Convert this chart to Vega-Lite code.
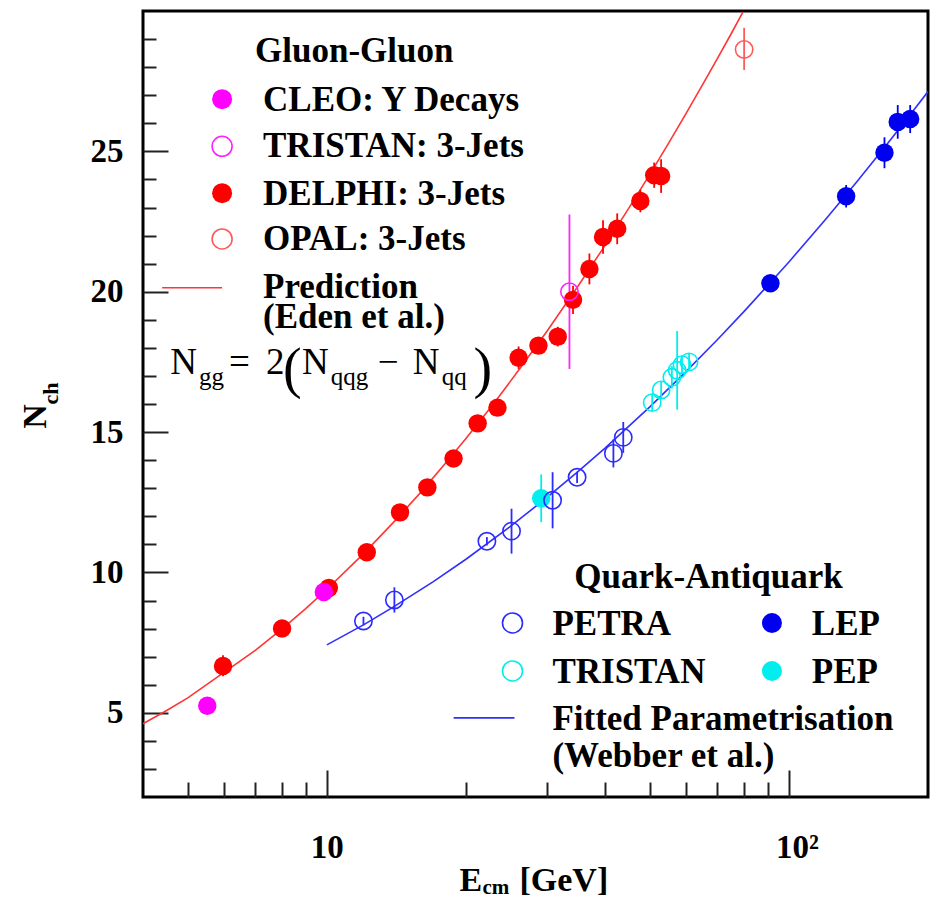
{
  "$schema": "https://vega.github.io/schema/vega-lite/v6.json",
  "width": 785,
  "height": 786,
  "autosize": {"type": "none"},
  "padding": {"left": 143, "top": 11, "right": 6, "bottom": 103},
  "background": "white",
  "config": {
    "view": {"stroke": "black", "strokeWidth": 3},
    "font": "Liberation Serif",
    "axis": {"grid": false, "domain": false}
  },
  "datasets": {
    "pred": [
      {"E": 4, "N": 4.61}, {"E": 4.5, "N": 5.08}, {"E": 5, "N": 5.53}, {"E": 6, "N": 6.45},
      {"E": 7, "N": 7.22}, {"E": 8, "N": 7.99}, {"E": 9, "N": 8.71}, {"E": 10, "N": 9.4},
      {"E": 12, "N": 10.66}, {"E": 14, "N": 11.82}, {"E": 16, "N": 12.87}, {"E": 18, "N": 13.86},
      {"E": 20, "N": 14.77}, {"E": 23, "N": 16.03}, {"E": 26, "N": 17.2}, {"E": 30, "N": 18.61},
      {"E": 35, "N": 20.21}, {"E": 40, "N": 21.65}, {"E": 45, "N": 22.97}, {"E": 50, "N": 24.18},
      {"E": 55, "N": 25.31}, {"E": 60, "N": 26.37}, {"E": 65, "N": 27.37}, {"E": 70, "N": 28.3},
      {"E": 75, "N": 29.19}, {"E": 79.5, "N": 29.96}
    ],
    "fit": [
      {"E": 10, "N": 7.42}, {"E": 12, "N": 8.13}, {"E": 14, "N": 8.79}, {"E": 17, "N": 9.67},
      {"E": 20, "N": 10.47}, {"E": 25, "N": 11.65}, {"E": 30, "N": 12.68}, {"E": 35, "N": 13.6},
      {"E": 40, "N": 14.43}, {"E": 50, "N": 15.9}, {"E": 60, "N": 17.17}, {"E": 70, "N": 18.29},
      {"E": 80, "N": 19.3}, {"E": 91.2, "N": 20.33}, {"E": 100, "N": 21.06}, {"E": 120, "N": 22.57},
      {"E": 140, "N": 23.9}, {"E": 160, "N": 25.08}, {"E": 180, "N": 26.15}, {"E": 200, "N": 27.13}
    ],
    "pts": [
      {"exp": "TRISTAN_gg", "E": 33.5, "N": 20.0, "lo": 17.25, "hi": 22.75},
      {"exp": "DELPHI", "E": 5.96, "N": 6.67, "lo": 6.3, "hi": 7.05},
      {"exp": "DELPHI", "E": 8.0, "N": 8.0, "lo": 7.8, "hi": 8.2},
      {"exp": "DELPHI", "E": 10.1, "N": 9.45, "lo": 9.15, "hi": 9.75},
      {"exp": "DELPHI", "E": 12.2, "N": 10.72, "lo": 10.47, "hi": 10.97},
      {"exp": "DELPHI", "E": 14.4, "N": 12.14, "lo": 11.89, "hi": 12.39},
      {"exp": "DELPHI", "E": 16.5, "N": 13.03, "lo": 12.83, "hi": 13.23},
      {"exp": "DELPHI", "E": 18.8, "N": 14.06, "lo": 13.81, "hi": 14.31},
      {"exp": "DELPHI", "E": 21.2, "N": 15.31, "lo": 15.01, "hi": 15.61},
      {"exp": "DELPHI", "E": 23.4, "N": 15.87, "lo": 15.57, "hi": 16.17},
      {"exp": "DELPHI", "E": 26.0, "N": 17.65, "lo": 17.25, "hi": 18.05},
      {"exp": "DELPHI", "E": 28.7, "N": 18.08, "lo": 17.78, "hi": 18.38},
      {"exp": "DELPHI", "E": 31.6, "N": 18.4, "lo": 18.05, "hi": 18.75},
      {"exp": "DELPHI", "E": 34.1, "N": 19.71, "lo": 19.21, "hi": 20.21},
      {"exp": "DELPHI", "E": 37.0, "N": 20.81, "lo": 20.26, "hi": 21.36},
      {"exp": "DELPHI", "E": 39.6, "N": 21.95, "lo": 21.35, "hi": 22.55},
      {"exp": "DELPHI", "E": 42.5, "N": 22.24, "lo": 21.69, "hi": 22.79},
      {"exp": "DELPHI", "E": 47.7, "N": 23.23, "lo": 22.83, "hi": 23.63},
      {"exp": "DELPHI", "E": 51.1, "N": 24.15, "lo": 23.7, "hi": 24.6},
      {"exp": "DELPHI", "E": 52.9, "N": 24.12, "lo": 23.52, "hi": 24.72},
      {"exp": "CLEO", "E": 5.51, "N": 5.25},
      {"exp": "CLEO", "E": 9.85, "N": 9.3},
      {"exp": "OPAL", "E": 80.0, "N": 28.63, "lo": 27.9, "hi": 29.4},
      {"exp": "PETRA", "E": 12.0, "N": 8.27, "lo": 8.12, "hi": 8.42},
      {"exp": "PETRA", "E": 14.0, "N": 9.02, "lo": 8.57, "hi": 9.47},
      {"exp": "PETRA", "E": 22.2, "N": 11.11, "lo": 10.96, "hi": 11.26},
      {"exp": "PETRA", "E": 25.1, "N": 11.47, "lo": 10.67, "hi": 12.27},
      {"exp": "PETRA", "E": 30.8, "N": 12.57, "lo": 11.57, "hi": 13.57},
      {"exp": "PETRA", "E": 34.8, "N": 13.39, "lo": 13.19, "hi": 13.59},
      {"exp": "PETRA", "E": 41.7, "N": 14.24, "lo": 13.74, "hi": 14.74},
      {"exp": "PETRA", "E": 43.8, "N": 14.81, "lo": 14.26, "hi": 15.36},
      {"exp": "TRISTAN_qq", "E": 50.6, "N": 16.05, "lo": 15.75, "hi": 16.35},
      {"exp": "TRISTAN_qq", "E": 52.9, "N": 16.5, "lo": 16.2, "hi": 16.8},
      {"exp": "TRISTAN_qq", "E": 55.8, "N": 16.95, "lo": 16.55, "hi": 17.35},
      {"exp": "TRISTAN_qq", "E": 57.3, "N": 17.2, "lo": 15.8, "hi": 18.6},
      {"exp": "TRISTAN_qq", "E": 58.7, "N": 17.4, "lo": 17.1, "hi": 17.7},
      {"exp": "TRISTAN_qq", "E": 60.8, "N": 17.5, "lo": 17.2, "hi": 17.8},
      {"exp": "PEP", "E": 29.1, "N": 12.64, "lo": 11.79, "hi": 13.49},
      {"exp": "LEP", "E": 91.2, "N": 20.3, "lo": 20.1, "hi": 20.5},
      {"exp": "LEP", "E": 133, "N": 23.4, "lo": 23.0, "hi": 23.8},
      {"exp": "LEP", "E": 161, "N": 24.95, "lo": 24.4, "hi": 25.5},
      {"exp": "LEP", "E": 172, "N": 26.05, "lo": 25.45, "hi": 26.65},
      {"exp": "LEP", "E": 183, "N": 26.15, "lo": 25.65, "hi": 26.65}
    ],
    "legmarks": [
      {"exp": "CLEO", "E": 5.933, "N": 26.86},
      {"exp": "TRISTAN_gg", "E": 5.933, "N": 25.18},
      {"exp": "DELPHI", "E": 5.933, "N": 23.51},
      {"exp": "OPAL", "E": 5.933, "N": 21.88},
      {"exp": "PETRA", "E": 25.22, "N": 8.2},
      {"exp": "LEP", "E": 91.9, "N": 8.2},
      {"exp": "TRISTAN_qq", "E": 25.22, "N": 6.49},
      {"exp": "PEP", "E": 91.9, "N": 6.49}
    ],
    "leglines": [
      {"exp": "pred", "E": 4.401, "E2": 5.933, "N": 20.14},
      {"exp": "fit", "E": 18.81, "E2": 25.47, "N": 4.82}
    ],
    "legtext": [
      {"text": "Gluon-Gluon", "E": 6.99, "N": 28.17},
      {"text": "CLEO: Y Decays", "E": 7.275, "N": 26.43},
      {"text": "TRISTAN: 3-Jets", "E": 7.275, "N": 24.79},
      {"text": "DELPHI: 3-Jets", "E": 7.275, "N": 23.09},
      {"text": "OPAL: 3-Jets", "E": 7.275, "N": 21.49},
      {"text": "Prediction\n(Eden et al.)", "E": 7.275, "N": 19.78},
      {"text": "Quark-Antiquark", "E": 34.33, "N": 9.44},
      {"text": "PETRA", "E": 30.77, "N": 7.77},
      {"text": "LEP", "E": 112.1, "N": 7.77},
      {"text": "TRISTAN", "E": 30.77, "N": 6.07},
      {"text": "PEP", "E": 112.1, "N": 6.07},
      {"text": "Fitted Parametrisation", "E": 30.77, "N": 4.4},
      {"text": "(Webber et al.)", "E": 30.77, "N": 3.08}
    ],
    "formula": [
      {"role": "main", "text": "N", "E": 4.58, "N": 17.08},
      {"role": "sub", "text": "gg", "E": 5.29, "N": 16.69},
      {"role": "main", "text": "=", "E": 6.14, "N": 17.08},
      {"role": "main", "text": "2", "E": 7.385, "N": 17.08},
      {"role": "paren", "text": "(", "E": 8.035, "N": 16.62},
      {"role": "main", "text": "N", "E": 8.83, "N": 17.08},
      {"role": "sub", "text": "qqg", "E": 10.2, "N": 16.69},
      {"role": "main", "text": "\u2212", "E": 12.89, "N": 17.08},
      {"role": "main", "text": "N", "E": 15.34, "N": 17.08},
      {"role": "sub", "text": "qq", "E": 17.72, "N": 16.69},
      {"role": "paren", "text": ")", "E": 20.77, "N": 16.62}
    ]
  },
  "resolve": {"axis": {"x": "independent", "y": "independent"}},
  "layer": [
    {
      "data": {"name": "pred"},
      "mark": {"type": "line", "color": "#ff3535", "strokeWidth": 1.6, "clip": true},
      "encoding": {
        "x": {"field": "E", "type": "quantitative", "scale": {"type": "log", "domain": [4, 200], "nice": false},
          "axis": {"orient": "bottom", "values": [10, 100], "ticks": false, "domain": false,
            "labelExpr": "datum.value == 100 ? '10\u00b2' : '10'",
            "labelOffset": {"condition": {"test": "datum.value == 100", "value": 8}, "value": 0},
            "labelFont": "Liberation Serif", "labelFontWeight": "bold", "labelFontSize": 33, "labelColor": "black", "labelPadding": 34,
            "title": "E", "titleFont": "Liberation Serif", "titleFontWeight": "bold", "titleFontSize": 34, "titleColor": "black",
            "titleAngle": 0, "titleAlign": "left", "titleBaseline": "alphabetic", "titleX": 316, "titleY": 93}},
        "y": {"field": "N", "type": "quantitative", "scale": {"domain": [2, 30], "nice": false, "zero": false},
          "axis": {"orient": "left", "values": [5, 10, 15, 20, 25], "ticks": false, "domain": false, "format": "d",
            "labelFont": "Liberation Serif", "labelFontWeight": "bold", "labelFontSize": 33, "labelColor": "black", "labelPadding": 20,
            "title": "N", "titleFont": "Liberation Serif", "titleFontWeight": "bold", "titleFontSize": 34, "titleColor": "black",
            "titleAngle": -90, "titleAlign": "center", "titleBaseline": "alphabetic", "titleX": -98, "titleY": 405}}
      }
    },
    {
      "data": {"name": "fit"},
      "mark": {"type": "line", "color": "#2f2fff", "strokeWidth": 1.6, "clip": true},
      "encoding": {
        "x": {"field": "E", "type": "quantitative", "scale": {"type": "log", "domain": [4, 200], "nice": false},
          "axis": {"orient": "bottom", "values": [10, 100], "labels": false, "domain": false, "ticks": true,
            "tickSize": -27, "tickWidth": 2, "tickColor": "#222",
            "title": "cm", "titleFont": "Liberation Serif", "titleFontWeight": "bold", "titleFontSize": 21, "titleColor": "black",
            "titleAngle": 0, "titleAlign": "left", "titleBaseline": "alphabetic", "titleX": 339, "titleY": 96}},
        "y": {"field": "N", "type": "quantitative", "scale": {"domain": [2, 30], "nice": false, "zero": false},
          "axis": {"orient": "left", "values": [5, 10, 15, 20, 25], "labels": false, "domain": false, "ticks": true,
            "tickSize": -25, "tickWidth": 2, "tickColor": "#222",
            "title": "ch", "titleFont": "Liberation Serif", "titleFontWeight": "bold", "titleFontSize": 22, "titleColor": "black",
            "titleAngle": -90, "titleAlign": "center", "titleBaseline": "alphabetic", "titleX": -86, "titleY": 382}}
      }
    },
    {
      "data": {"name": "pts"},
      "transform": [{"filter": "isValid(datum.lo)"}],
      "mark": {"type": "rule", "strokeWidth": 1.8},
      "encoding": {
        "x": {"field": "E", "type": "quantitative", "scale": {"type": "log", "domain": [4, 200], "nice": false},
          "axis": {"orient": "bottom", "values": [5, 6, 7, 8, 9, 20, 30, 40, 50, 60, 70, 80, 90], "labels": false, "domain": false, "ticks": true,
            "tickSize": -15, "tickWidth": 2, "tickColor": "#222",
            "title": "[GeV]", "titleFont": "Liberation Serif", "titleFontWeight": "bold", "titleFontSize": 34, "titleColor": "black",
            "titleAngle": 0, "titleAlign": "left", "titleBaseline": "alphabetic", "titleX": 376, "titleY": 93}},
        "y": {"field": "lo", "type": "quantitative", "scale": {"domain": [2, 30], "nice": false, "zero": false},
          "axis": {"orient": "left", "values": [3, 4, 6, 7, 8, 9, 11, 12, 13, 14, 16, 17, 18, 19, 21, 22, 23, 24, 26, 27, 28, 29],
            "labels": false, "domain": false, "ticks": true, "tickSize": -13, "tickWidth": 2, "tickColor": "#222", "title": null}},
        "y2": {"field": "hi"},
        "color": {"field": "exp", "type": "nominal", "legend": null,
          "scale": {"domain": ["CLEO", "TRISTAN_gg", "DELPHI", "OPAL", "PETRA", "TRISTAN_qq", "PEP", "LEP", "pred", "fit"],
            "range": ["#ff00ff", "#ff22ff", "#ff0000", "#ff5a5a", "#2b2bff", "#00eeee", "#00eeee", "#0000f0", "#ff3535", "#2f2fff"]}}
      }
    },
    {
      "data": {"name": "pts"},
      "transform": [{"filter": "indexof(['CLEO','DELPHI','PEP','LEP'], datum.exp) >= 0"}],
      "mark": {"type": "point", "shape": "circle", "filled": true, "opacity": 1, "size": 340},
      "encoding": {
        "x": {"field": "E", "type": "quantitative", "scale": {"type": "log", "domain": [4, 200], "nice": false}, "axis": null},
        "y": {"field": "N", "type": "quantitative", "scale": {"domain": [2, 30], "nice": false, "zero": false}, "axis": null},
        "color": {"field": "exp", "type": "nominal", "legend": null}
      }
    },
    {
      "data": {"name": "pts"},
      "transform": [{"filter": "indexof(['TRISTAN_gg','OPAL','PETRA','TRISTAN_qq'], datum.exp) >= 0"}],
      "mark": {"type": "point", "shape": "circle", "filled": false, "opacity": 1, "size": 300, "strokeWidth": 1.6},
      "encoding": {
        "x": {"field": "E", "type": "quantitative", "scale": {"type": "log", "domain": [4, 200], "nice": false}, "axis": null},
        "y": {"field": "N", "type": "quantitative", "scale": {"domain": [2, 30], "nice": false, "zero": false}, "axis": null},
        "color": {"field": "exp", "type": "nominal", "legend": null}
      }
    },
    {
      "data": {"name": "legmarks"},
      "transform": [{"filter": "indexof(['CLEO','DELPHI','PEP','LEP'], datum.exp) >= 0"}],
      "mark": {"type": "point", "shape": "circle", "filled": true, "opacity": 1, "size": 400},
      "encoding": {
        "x": {"field": "E", "type": "quantitative", "axis": null},
        "y": {"field": "N", "type": "quantitative", "axis": null},
        "color": {"field": "exp", "type": "nominal", "legend": null}
      }
    },
    {
      "data": {"name": "legmarks"},
      "transform": [{"filter": "indexof(['TRISTAN_gg','OPAL','PETRA','TRISTAN_qq'], datum.exp) >= 0"}],
      "mark": {"type": "point", "shape": "circle", "filled": false, "opacity": 1, "size": 400, "strokeWidth": 1.6},
      "encoding": {
        "x": {"field": "E", "type": "quantitative", "axis": null},
        "y": {"field": "N", "type": "quantitative", "axis": null},
        "color": {"field": "exp", "type": "nominal", "legend": null}
      }
    },
    {
      "data": {"name": "leglines"},
      "mark": {"type": "rule", "strokeWidth": 1.6},
      "encoding": {
        "x": {"field": "E", "type": "quantitative", "axis": null},
        "x2": {"field": "E2"},
        "y": {"field": "N", "type": "quantitative", "axis": null},
        "color": {"field": "exp", "type": "nominal", "legend": null}
      }
    },
    {
      "data": {"name": "legtext"},
      "mark": {"type": "text", "font": "Liberation Serif", "fontWeight": "bold", "fontSize": 35, "align": "left", "baseline": "alphabetic", "color": "black", "lineBreak": "\n", "lineHeight": 30},
      "encoding": {
        "x": {"field": "E", "type": "quantitative", "axis": null},
        "y": {"field": "N", "type": "quantitative", "axis": null},
        "text": {"field": "text"}
      }
    },
    {
      "data": {"name": "formula"},
      "transform": [{"filter": "datum.role == 'main'"}],
      "mark": {"type": "text", "font": "Liberation Serif", "fontSize": 37, "align": "left", "baseline": "alphabetic", "color": "black"},
      "encoding": {
        "x": {"field": "E", "type": "quantitative", "axis": null},
        "y": {"field": "N", "type": "quantitative", "axis": null},
        "text": {"field": "text"}
      }
    },
    {
      "data": {"name": "formula"},
      "transform": [{"filter": "datum.role == 'sub'"}],
      "mark": {"type": "text", "font": "Liberation Serif", "fontSize": 25, "align": "left", "baseline": "alphabetic", "color": "black"},
      "encoding": {
        "x": {"field": "E", "type": "quantitative", "axis": null},
        "y": {"field": "N", "type": "quantitative", "axis": null},
        "text": {"field": "text"}
      }
    },
    {
      "data": {"name": "formula"},
      "transform": [{"filter": "datum.role == 'paren'"}],
      "mark": {"type": "text", "font": "Liberation Serif", "fontSize": 56, "align": "left", "baseline": "alphabetic", "color": "black"},
      "encoding": {
        "x": {"field": "E", "type": "quantitative", "axis": null},
        "y": {"field": "N", "type": "quantitative", "axis": null},
        "text": {"field": "text"}
      }
    }
  ]
}
